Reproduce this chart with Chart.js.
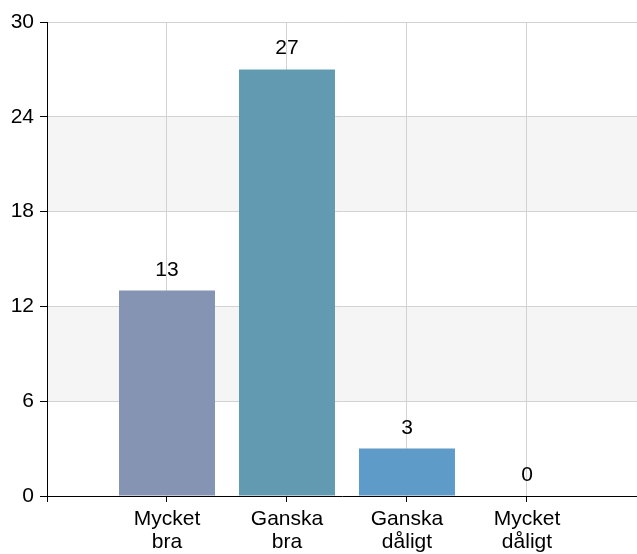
<!DOCTYPE html>
<html><head><meta charset="utf-8">
<script src="https://cdn.jsdelivr.net/npm/chart.js@4"></script>
<style>html,body{margin:0;padding:0;background:#fff;overflow:hidden}</style>
</head><body>
<canvas id="c" width="637" height="554"></canvas>
<script>
const categories = [['Mycket','bra'],['Ganska','bra'],['Ganska','dåligt'],['Mycket','dåligt']];
const values = [13, 27, 3, 0];
const barColors = ['#8594b3', '#629bb1', '#5f9bc8', '#5f9bc8'];
const yTicks = [0, 6, 12, 18, 24, 30];

const FONT = "'Liberation Sans', Arial, sans-serif";

const bandsPlugin = {
  id: 'bands',
  beforeDraw(chart) {
    const {ctx, chartArea: a, scales: {y}} = chart;
    ctx.save();
    ctx.fillStyle = '#f5f5f5';
    for (let k = 1; k < yTicks.length - 1; k += 2) {
      const y0 = y.getPixelForValue(yTicks[k]);
      const y1 = y.getPixelForValue(yTicks[k + 1]);
      ctx.fillRect(a.left, y1, a.right - a.left, y0 - y1);
    }
    ctx.restore();
  }
};

const valueLabels = {
  id: 'valueLabels',
  afterDatasetsDraw(chart) {
    const {ctx} = chart;
    const meta = chart.getDatasetMeta(0);
    ctx.save();
    ctx.font = '21px ' + FONT;
    ctx.fillStyle = '#000';
    ctx.textAlign = 'center';
    ctx.textBaseline = 'alphabetic';
    meta.data.forEach((el, i) => {
      ctx.fillText(String(values[i]), el.x, el.y - 15);
    });
    ctx.restore();
  }
};

new Chart(document.getElementById('c'), {
  type: 'bar',
  data: {
    datasets: [{
      data: values.map((v, i) => ({x: i + 1, y: v})),
      backgroundColor: barColors,
      borderWidth: 0,
      barPercentage: 0.8,
      categoryPercentage: 1
    }]
  },
  options: {
    responsive: false,
    animation: false,
    layout: {padding: {top: 22, right: 0, left: 0, bottom: 0}},
    plugins: {legend: {display: false}, tooltip: {enabled: false}},
    scales: {
      x: {
        type: 'linear',
        offset: false,
        min: 0,
        max: 4.917,
        afterBuildTicks(s) { s.ticks = [0, 1, 2, 3, 4].map(v => ({value: v})); },
        afterFit(s) { s.height = 58; },
        ticks: {
          autoSkip: false,
          maxRotation: 0,
          color: '#000',
          padding: 6,
          font: {family: FONT, size: 21, lineHeight: 1.1},
          callback: (v) => v >= 1 ? categories[v - 1] : ''
        },
        grid: {offset: false, color: '#d2d2d2', tickColor: '#000', tickLength: 6, lineWidth: 1},
        border: {color: '#000', width: 1}
      },
      y: {
        min: 0,
        max: 30,
        afterBuildTicks(s) { s.ticks = yTicks.map(v => ({value: v})); },
        afterFit(s) { s.width = 47; },
        ticks: {color: '#000', padding: 6, font: {family: FONT, size: 21}},
        grid: {color: '#d2d2d2', tickColor: '#000', tickLength: 7, lineWidth: 1},
        border: {color: '#000', width: 1}
      }
    }
  },
  plugins: [bandsPlugin, valueLabels]
});
</script>
</body></html>
